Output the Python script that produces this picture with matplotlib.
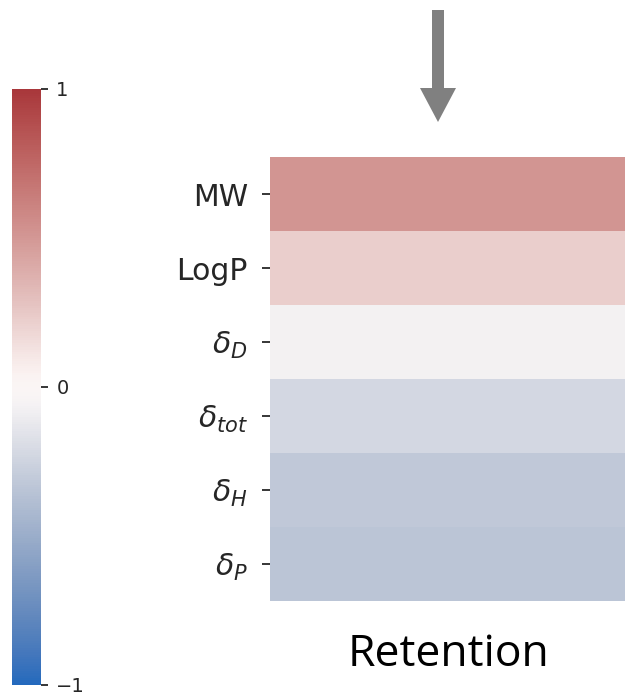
import numpy as np
import matplotlib
matplotlib.use("Agg")
import matplotlib.pyplot as plt
import seaborn as sns
from matplotlib.colors import Normalize
from matplotlib.cm import ScalarMappable

# Correlation of each descriptor with retention
descriptors = ["MW", "LogP", r"$\delta_D$", r"$\delta_{tot}$", r"$\delta_H$", r"$\delta_P$"]
retention_corr = [0.51, 0.22, -0.07, -0.22, -0.32, -0.34]
column_label = "Retention"
cbar_ticks = [-1, 0, 1]
cbar_ticklabels = ["\u22121", "0", "1"]

cmap = sns.color_palette("vlag", as_cmap=True)
norm = Normalize(vmin=-1, vmax=1)

W, H = 625, 695
fig = plt.figure(figsize=(W / 100, H / 100), dpi=100)

# Heatmap panel
ax = fig.add_axes([270 / W, 1 - 601 / H, 355 / W, 444 / H])
data = np.array(retention_corr).reshape(-1, 1)
ax.imshow(data, cmap=cmap, norm=norm, aspect="auto", interpolation="nearest")
ax.set_yticks(np.arange(len(descriptors)))
ax.set_yticklabels(descriptors, fontsize=21.5, color="#262626")
ax.tick_params(axis="y", length=6, width=1.3, pad=10, color="#262626")
ax.set_xticks([])
for s in ax.spines.values():
    s.set_visible(False)

fig.text(449 / W, 1 - 655 / H, column_label, fontsize=32, family="Open Sans",
         ha="center", va="center", color="black")

# Colorbar
cax = fig.add_axes([12 / W, 1 - 685 / H, 29 / W, 596 / H])
cb = fig.colorbar(ScalarMappable(norm=norm, cmap=cmap), cax=cax)
cb.outline.set_visible(False)
cb.set_ticks(cbar_ticks)
cb.set_ticklabels(cbar_ticklabels)
cax.tick_params(labelsize=14, length=5, width=1.3, pad=6, colors="#262626")

# Arrow pointing down at the column
fig.patches.append(matplotlib.patches.FancyArrow(
    438 / W, 1 - 10 / H, 0, -(112 / H), width=12 / W, head_width=36 / W,
    head_length=34 / H, length_includes_head=True, transform=fig.transFigure,
    color="#808080", linewidth=0))

fig.savefig("out.png", dpi=100)
